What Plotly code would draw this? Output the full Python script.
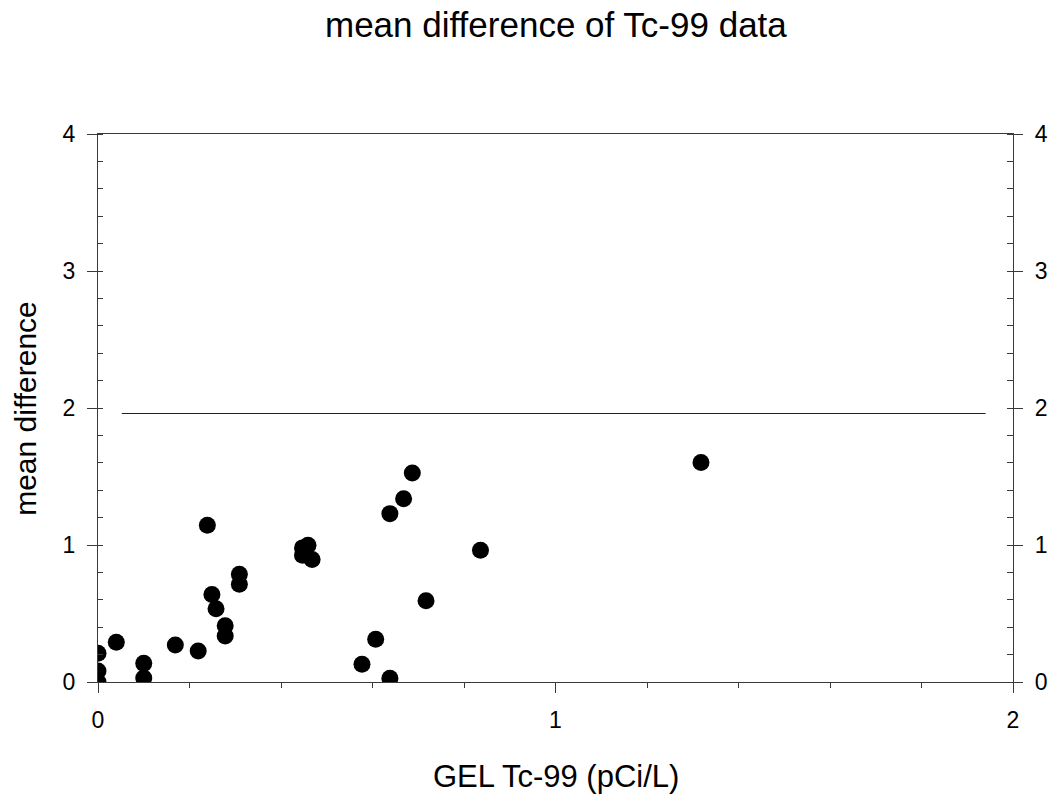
import plotly.graph_objects as go

# Data
gel_tc99 = [0.0, 0.0, 0.0, 0.04, 0.10, 0.10, 0.169, 0.219, 0.239, 0.249, 0.258,
            0.278, 0.278, 0.309, 0.309, 0.447, 0.459, 0.447, 0.468, 0.577, 0.607,
            0.638, 0.638, 0.668, 0.687, 0.717, 0.836, 1.318]
mean_diff = [0.0, 0.08, 0.21, 0.29, 0.136, 0.03, 0.27, 0.226, 1.144, 0.639, 0.534,
             0.41, 0.335, 0.787, 0.714, 0.979, 0.998, 0.925, 0.894, 0.129, 0.312,
             0.027, 1.229, 1.338, 1.525, 0.593, 0.962, 1.603]

ref_line_x = [0.052, 1.94]
ref_line_y = [1.96, 1.96]

x_ticks = [0, 1, 2]
y_ticks = [0, 1, 2, 3, 4]

title_text = "mean difference of Tc-99 data"
x_title = "GEL Tc-99 (pCi/L)"
y_title = "mean difference"

FONT = "Liberation Sans, Arial, sans-serif"
AX = "#3a3a3a"
TICK_SIZE = 23

fig = go.Figure()
fig.add_trace(go.Scatter(x=ref_line_x, y=ref_line_y, mode="lines",
                         line=dict(color="#222", width=1.2), showlegend=False,
                         hoverinfo="skip"))
fig.add_trace(go.Scatter(x=gel_tc99, y=mean_diff, mode="markers",
                         marker=dict(color="black", size=17), showlegend=False))
# invisible trace for the right axis
fig.add_trace(go.Scatter(x=[0], y=[0], yaxis="y2", mode="markers",
                         marker=dict(opacity=0), showlegend=False, hoverinfo="skip"))

fig.update_layout(
    width=1055, height=797,
    margin=dict(l=98, r=42, t=134, b=115, autoexpand=False),
    paper_bgcolor="white", plot_bgcolor="white",
    font=dict(family=FONT, color="black"),
    xaxis=dict(range=[0, 2], tickvals=x_ticks, ticktext=[str(v) for v in x_ticks],
               automargin=False,
               showgrid=False, zeroline=False, showline=True, linecolor=AX,
               linewidth=1.3, mirror=True, ticks="outside", ticklen=10,
               tickcolor=AX, tickwidth=1.3, ticklabelstandoff=7,
               tickfont=dict(size=TICK_SIZE, family=FONT),
               minor=dict(dtick=0.2, ticks="outside", ticklen=5, tickcolor=AX,
                          tickwidth=1.2, showgrid=False)),
    yaxis=dict(range=[0, 4], tickvals=y_ticks, ticktext=[str(v) for v in y_ticks],
               automargin=False,
               showgrid=False, zeroline=False, showline=True, linecolor=AX,
               linewidth=1.3, ticks="outside", ticklen=10, tickcolor=AX,
               tickwidth=1.3, ticklabelstandoff=7,
               tickfont=dict(size=TICK_SIZE, family=FONT),
               minor=dict(dtick=0.2, ticks="inside", ticklen=5, tickcolor=AX,
                          tickwidth=1.2, showgrid=False)),
    yaxis2=dict(range=[0, 4], tickvals=y_ticks, ticktext=[str(v) for v in y_ticks],
                overlaying="y", side="right", anchor="x", automargin=False,
                showgrid=False, zeroline=False, showline=True, linecolor=AX,
                linewidth=1.3, ticks="outside", ticklen=9, tickcolor=AX,
                tickwidth=1.3, ticklabelstandoff=7,
                tickfont=dict(size=TICK_SIZE, family=FONT),
                minor=dict(dtick=0.2, ticks="inside", ticklen=6, tickcolor=AX,
                           tickwidth=1.2, showgrid=False)),
    annotations=[
        dict(text=title_text, xref="paper", yref="paper", x=0.5, y=1.199,
             xanchor="center", yanchor="middle", showarrow=False,
             font=dict(size=35, family=FONT)),
        dict(text=x_title, xref="paper", yref="paper", x=0.5, y=-0.172,
             xanchor="center", yanchor="middle", showarrow=False,
             font=dict(size=31, family=FONT)),
        dict(text=y_title, xref="paper", yref="paper", x=-0.08, y=0.5,
             xanchor="center", yanchor="middle", showarrow=False, textangle=-90,
             font=dict(size=30, family=FONT)),
    ],
)

fig.write_html("out.html")
